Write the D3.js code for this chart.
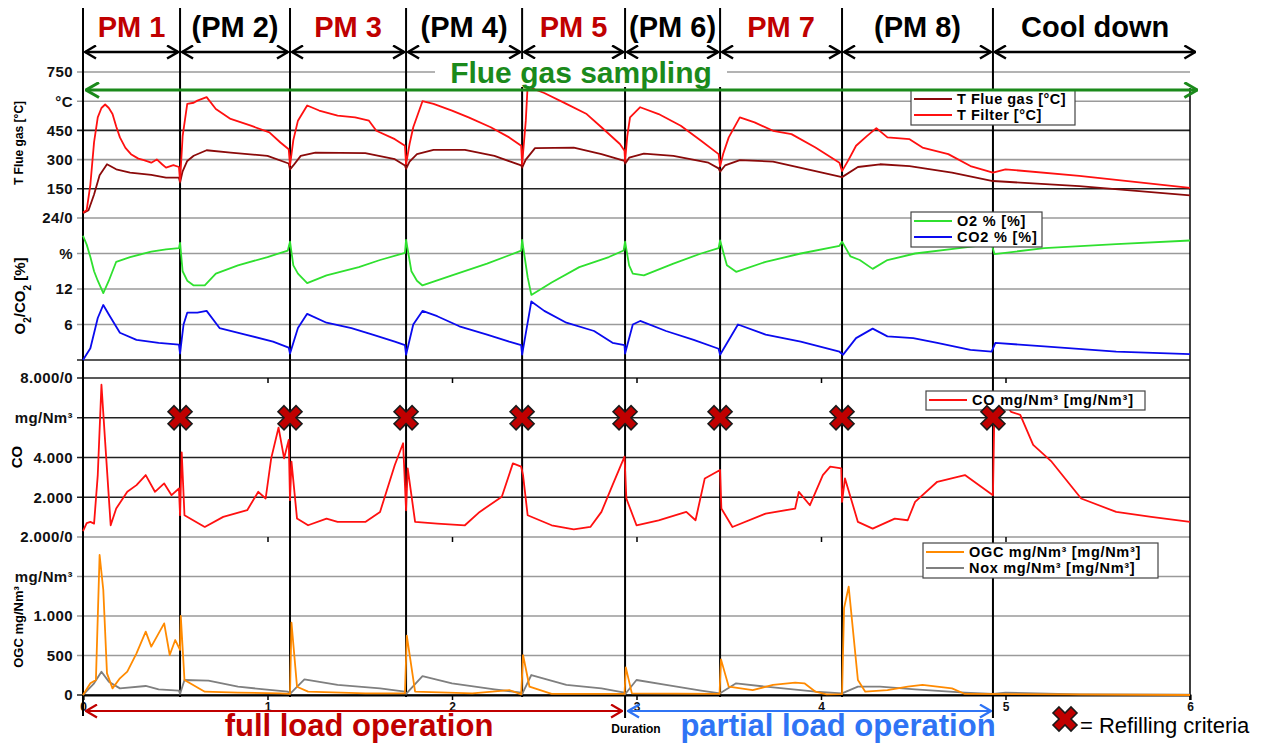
<!DOCTYPE html>
<html>
<head>
<meta charset="utf-8">
<script src="https://cdn.jsdelivr.net/npm/d3@7/dist/d3.min.js"></script>
<style>
  body { margin: 0; background: #fff; }
  svg { font-family: "Liberation Sans", Arial, sans-serif; }
  .tick text { font-weight: bold; }
</style>
</head>
<body>
<svg id="chart" width="1266" height="744"></svg>
<script>
// ---- data (x = duration, y = value) ----
const phaseNames = ['PM 1', '(PM 2)', 'PM 3', '(PM 4)', 'PM 5', '(PM 6)', 'PM 7', '(PM 8)', 'Cool down'];
const phaseBounds = [0, 0.526, 1.122, 1.751, 2.38, 2.938, 3.453, 4.114, 4.932, 6.04];
const refillAt = [0.526, 1.122, 1.751, 2.38, 2.938, 3.453, 4.114, 4.932];
const fullLoad = [0, 2.938];
const partialLoad = [2.938, 4.932];

const xTicks = [0, 1, 2, 3, 4, 5, 6];
const tempTicks = [0, 150, 300, 450, 600, 750];
const tempLabels = ['24/0', '150', '300', '450', '°C', '750'];
const gasTicks = [6, 12, 18];
const gasLabels = ['6', '12', '%'];
const coTicks = [0, 2000, 4000, 6000, 8000];
const coLabels = ['2.000/0', '2.000', '4.000', 'mg/Nm³', '8.000/0'];
const ogcTicks = [0, 500, 1000, 1500];
const ogcLabels = ['0', '500', '1.000', 'mg/Nm³'];

const tFilter = [[0,28],[0.02,40],[0.04,172],[0.06,390],[0.08,517],[0.1,565],[0.12,583],[0.14,565],[0.16,534],[0.18,470],[0.2,414],[0.23,360],[0.26,328],[0.3,305],[0.33,297],[0.37,284],[0.4,301],[0.43,275],[0.45,259],[0.49,272],[0.52,262],[0.526,190],[0.54,420],[0.565,586],[0.6,592],[0.62,603],[0.67,621],[0.72,560],[0.8,509],[0.91,474],[1.01,440],[1.07,388],[1.115,353],[1.122,270],[1.14,400],[1.165,500],[1.215,578],[1.28,552],[1.38,526],[1.475,517],[1.55,500],[1.59,448],[1.69,405],[1.745,371],[1.751,275],[1.77,380],[1.79,466],[1.84,600],[1.9,586],[2.0,552],[2.09,517],[2.21,466],[2.31,414],[2.375,371],[2.38,275],[2.4,500],[2.41,680],[2.45,660],[2.5,642],[2.62,586],[2.73,534],[2.81,466],[2.91,380],[2.935,345],[2.938,293],[2.95,420],[2.965,517],[3.02,569],[3.12,534],[3.24,474],[3.35,397],[3.445,328],[3.453,267],[3.47,330],[3.5,414],[3.56,517],[3.64,491],[3.74,448],[3.84,431],[3.97,362],[4.1,284],[4.114,241],[4.15,300],[4.19,371],[4.25,422],[4.3,462],[4.36,414],[4.48,405],[4.55,362],[4.69,328],[4.81,267],[4.932,233],[5.0,250],[5.4,216],[6.0,155]];
const tFlueGas = [[0,25],[0.03,40],[0.06,121],[0.09,220],[0.13,276],[0.18,250],[0.255,233],[0.37,221],[0.45,207],[0.52,207],[0.526,182],[0.54,240],[0.565,293],[0.6,320],[0.67,348],[0.8,336],[1.0,319],[1.115,280],[1.122,250],[1.14,270],[1.18,319],[1.26,336],[1.53,333],[1.69,302],[1.745,270],[1.751,253],[1.77,290],[1.81,328],[1.9,350],[2.07,350],[2.23,319],[2.375,270],[2.38,259],[2.4,300],[2.45,359],[2.66,362],[2.81,328],[2.935,293],[2.938,279],[2.96,310],[3.04,331],[3.2,319],[3.39,284],[3.445,255],[3.453,238],[3.48,270],[3.56,297],[3.74,290],[3.97,241],[4.114,210],[4.2,262],[4.32,276],[4.48,267],[4.71,233],[4.932,190],[5.4,164],[6.0,116]];
const o2 = [[0,21],[0.02,19.5],[0.04,17.4],[0.06,15],[0.08,13.4],[0.11,11.3],[0.14,13.4],[0.18,16.6],[0.255,17.4],[0.37,18.3],[0.45,18.7],[0.52,18.9],[0.526,19.8],[0.54,15],[0.565,13.4],[0.6,12.6],[0.66,12.6],[0.72,14.6],[0.84,16.0],[1.0,17.4],[1.11,18.5],[1.122,20],[1.14,16],[1.165,14.6],[1.215,13.0],[1.32,14.3],[1.495,15.7],[1.61,16.9],[1.745,18.1],[1.751,20.3],[1.78,15],[1.81,13.4],[1.84,12.6],[2.0,14.3],[2.19,16.3],[2.31,17.7],[2.375,18.5],[2.38,20.3],[2.41,14],[2.43,11.0],[2.54,13.1],[2.69,15.7],[2.85,17.4],[2.93,18.5],[2.938,20],[2.96,16],[2.98,14.6],[3.04,14.3],[3.2,16.3],[3.35,18.0],[3.445,18.9],[3.453,20.2],[3.49,16],[3.54,14.9],[3.7,16.6],[3.89,18.0],[4.1,19.3],[4.114,20],[4.16,17.5],[4.21,16.9],[4.28,15.4],[4.36,16.9],[4.51,18.0],[4.75,18.9],[4.925,19.6],[4.94,17.9],[5.21,18.9],[5.6,19.6],[6.0,20.2]];
const co2 = [[0,0],[0.04,2.0],[0.08,7.1],[0.11,9.3],[0.14,7.7],[0.2,4.6],[0.29,3.4],[0.41,2.9],[0.52,2.6],[0.526,1.1],[0.545,6],[0.565,8.0],[0.62,8.0],[0.67,8.3],[0.74,5.4],[0.88,4.3],[1.03,3.1],[1.115,2.1],[1.122,1.1],[1.165,5.4],[1.215,7.8],[1.32,6.3],[1.455,5.4],[1.57,4.3],[1.69,3.1],[1.745,2.5],[1.751,0.9],[1.79,6.0],[1.84,8.3],[1.92,7.4],[2.04,5.7],[2.19,4.3],[2.31,3.1],[2.375,2.5],[2.38,0.9],[2.43,9.9],[2.5,8.3],[2.62,6.3],[2.77,4.9],[2.87,2.9],[2.935,2.5],[2.938,1.1],[2.98,6.0],[3.02,6.6],[3.16,4.9],[3.31,3.4],[3.445,1.9],[3.453,0.9],[3.55,6.0],[3.7,4.3],[3.89,3.1],[4.1,1.4],[4.12,0.9],[4.19,3.7],[4.28,5.3],[4.36,4.0],[4.5,3.7],[4.63,2.9],[4.81,1.7],[4.925,1.4],[4.945,2.9],[5.21,2.3],[5.6,1.4],[6.0,1.0]];
const co = [[0,300],[0.02,700],[0.04,758],[0.06,674],[0.08,3116],[0.1,7663],[0.12,4800],[0.15,590],[0.18,1432],[0.24,2274],[0.29,2611],[0.34,3116],[0.39,2274],[0.44,2695],[0.48,2105],[0.52,2442],[0.526,1100],[0.535,4261],[0.55,1095],[0.66,505],[0.76,1011],[0.89,1347],[0.95,2274],[0.99,1937],[1.02,3958],[1.06,5507],[1.09,3958],[1.115,4884],[1.122,1853],[1.13,3789],[1.16,926],[1.22,590],[1.32,926],[1.38,758],[1.53,758],[1.61,1263],[1.69,3621],[1.735,4716],[1.751,1347],[1.76,3453],[1.8,758],[1.92,674],[2.07,590],[2.15,1263],[2.27,2021],[2.33,3705],[2.375,3537],[2.385,3116],[2.41,1095],[2.54,590],[2.66,387],[2.75,505],[2.81,1263],[2.87,2611],[2.935,4042],[2.945,1937],[3.0,590],[3.12,842],[3.27,1263],[3.32,842],[3.37,2947],[3.453,3368],[3.46,1432],[3.52,505],[3.7,1179],[3.86,1432],[3.88,2274],[3.94,1600],[4.01,3116],[4.05,3537],[4.11,3453],[4.114,1768],[4.13,2947],[4.2,758],[4.28,421],[4.4,926],[4.47,842],[4.51,1768],[4.63,2779],[4.78,3116],[4.932,2105],[4.94,6484],[5.0,6700],[5.03,6300],[5.08,6147],[5.15,4632],[5.25,3789],[5.41,1937],[5.6,1263],[5.79,1011],[6.0,758]];
const ogc = [[0,0],[0.04,148],[0.07,190],[0.09,1772],[0.11,1329],[0.13,274],[0.16,84],[0.2,211],[0.24,295],[0.29,527],[0.34,802],[0.37,612],[0.44,907],[0.47,506],[0.5,696],[0.526,570],[0.53,1000],[0.55,190],[0.66,42],[0.84,30],[1.07,21],[1.122,15],[1.13,916],[1.16,105],[1.22,42],[1.53,21],[1.745,21],[1.755,751],[1.8,42],[2.11,21],[2.31,63],[2.375,8],[2.385,506],[2.42,105],[2.54,13],[2.935,13],[2.942,350],[2.975,21],[3.45,13],[3.458,451],[3.5,105],[3.63,63],[3.74,127],[3.86,156],[3.91,148],[3.97,42],[4.03,8],[4.114,10],[4.125,1100],[4.15,1371],[4.2,190],[4.24,42],[4.36,63],[4.47,105],[4.55,127],[4.71,84],[4.78,13],[6.0,0]];
const nox = [[0,0],[0.06,148],[0.1,295],[0.14,169],[0.2,84],[0.34,114],[0.41,72],[0.52,55],[0.526,13],[0.55,190],[0.68,181],[0.84,105],[1.11,42],[1.122,13],[1.2,198],[1.38,127],[1.61,84],[1.745,42],[1.751,13],[1.84,240],[2.0,148],[2.23,72],[2.375,30],[2.38,10],[2.43,253],[2.62,127],[2.81,84],[2.935,30],[2.938,10],[3.0,190],[3.16,127],[3.35,55],[3.453,21],[3.54,148],[3.7,105],[3.97,42],[4.114,21],[4.2,105],[4.32,105],[4.51,72],[4.78,30],[4.932,13],[5.0,30],[5.4,8],[6.0,4]];

// ---- scales ----
const svg = d3.select('#chart');
const x = d3.scaleLinear().domain([0, 6]).range([83, 1190]);
const yT = d3.scaleLinear().domain([0, 750]).range([218, 72]);
const yG = d3.scaleLinear().domain([0, 24]).range([360, 218]);
const yCO = d3.scaleLinear().domain([0, 8000]).range([537, 378]);
const yOGC = d3.scaleLinear().domain([0, 2000]).range([695, 537]);

const GRAY = '#9a9a9a', DARK = '#222';
const RED = '#c00000', GREEN = '#1b8a1b', BLUE = '#2f74f5';

// arrow markers
const defs = svg.append('defs');
function chevron(id, color, w, h, sw) {
  defs.append('marker')
      .attr('id', id)
      .attr('viewBox', `0 0 ${w} ${h}`)
      .attr('refX', w - 1).attr('refY', h / 2)
      .attr('markerWidth', w).attr('markerHeight', h)
      .attr('markerUnits', 'userSpaceOnUse')
      .attr('orient', 'auto-start-reverse')
    .append('path')
      .attr('d', `M1,1 L${w - 1},${h / 2} L1,${h - 1}`)
      .attr('fill', 'none')
      .attr('stroke', color)
      .attr('stroke-width', sw);
}
chevron('arrBlack', '#000', 13, 15, 2.5);
chevron('arrGreen', GREEN, 15, 17, 3);
chevron('arrRed', RED, 13, 15, 2.2);
chevron('arrBlue', BLUE, 13, 15, 2.2);

// ---- grid lines ----
function grid(scale, values, colorOf) {
  svg.append('g').selectAll('line')
      .data(values)
    .join('line')
      .attr('x1', x(0) - 6).attr('x2', x(6))
      .attr('y1', d => scale(d)).attr('y2', d => scale(d))
      .attr('stroke', colorOf)
      .attr('stroke-width', 1.6);
}
grid(yT, tempTicks, d => (d === 150 || d === 450) ? DARK : GRAY);
grid(yG, [0, 6, 12, 18], d => d === 0 ? DARK : GRAY);
grid(yCO, coTicks, d => d === 0 ? GRAY : DARK);
grid(yOGC, ogcTicks, d => d === 0 ? DARK : GRAY);

// ---- left axes (labels only, grid carries the lines) ----
function leftAxis(scale, values, labels) {
  const g = svg.append('g')
      .attr('transform', `translate(${x(0)},0)`)
      .call(d3.axisLeft(scale).tickValues(values)
        .tickFormat((d, i) => labels[i]).tickSize(6).tickPadding(4));
  g.select('.domain').remove();
  g.selectAll('.tick line').remove();
  g.selectAll('.tick text')
      .attr('fill', '#111')
      .style('font-size', '15px')
      .style('letter-spacing', '0.4px');
}
leftAxis(yT, tempTicks, tempLabels);
leftAxis(yG, gasTicks, gasLabels);
leftAxis(yCO, coTicks, coLabels);
leftAxis(yOGC, ogcTicks, ogcLabels);

// rotated axis titles
function yTitle(cx, cy, size) {
  return svg.append('text')
      .attr('transform', `translate(${cx},${cy}) rotate(-90)`)
      .attr('text-anchor', 'middle')
      .style('font-size', size + 'px')
      .style('font-weight', 'bold');
}
yTitle(23, 143, 12).text('T Flue gas [°C]');
const gasTitle = yTitle(25, 296, 15);
gasTitle.append('tspan').text('O');
gasTitle.append('tspan').attr('baseline-shift', 'sub').style('font-size', '10px').text('2');
gasTitle.append('tspan').text('/CO');
gasTitle.append('tspan').attr('baseline-shift', 'sub').style('font-size', '10px').text('2');
gasTitle.append('tspan').text(' [%]');
yTitle(22, 457, 15).text('CO');
yTitle(23, 627, 13).text('OGC mg/Nm³');

// ---- bottom axis ----
const xAxis = svg.append('g')
    .attr('transform', `translate(0,${yOGC(0)})`)
    .call(d3.axisBottom(x).tickValues(xTicks).tickSize(5).tickPadding(2).tickFormat(d3.format('d')));
xAxis.select('.domain').attr('stroke', '#000').attr('stroke-width', 2);
xAxis.selectAll('.tick line').attr('stroke', '#000').attr('stroke-width', 1.5);
xAxis.selectAll('.tick text').style('font-size', '12px').attr('fill', '#111');

// small inner ticks on CO and OGC panels
[yCO(8000), yCO(0)].forEach(yy => {
  const g = svg.append('g')
      .attr('transform', `translate(0,${yy})`)
      .call(d3.axisBottom(x).tickValues(xTicks.slice(1, 6)).tickSize(5).tickFormat(''));
  g.select('.domain').remove();
  g.selectAll('.tick line').attr('stroke', '#000').attr('stroke-width', 1.5);
});

// ---- vertical phase lines ----
svg.append('line')
    .attr('x1', x(0)).attr('x2', x(0))
    .attr('y1', 8).attr('y2', 716)
    .attr('stroke', '#000').attr('stroke-width', 2);
svg.append('line')
    .attr('x1', x(6)).attr('x2', x(6))
    .attr('y1', 88).attr('y2', 700)
    .attr('stroke', '#000').attr('stroke-width', 1.5);
svg.append('g').selectAll('line')
    .data(refillAt)
  .join('line')
    .attr('x1', d => x(d)).attr('x2', d => x(d))
    .attr('y1', 8)
    .attr('y2', d => (d === partialLoad[0] || d === partialLoad[1]) ? 718 : 697)
    .attr('stroke', '#000').attr('stroke-width', 2);

// ---- series ----
function series(data, scale, color, w) {
  svg.append('path')
      .datum(data)
      .attr('fill', 'none')
      .attr('stroke', color)
      .attr('stroke-width', w || 1.8)
      .attr('stroke-linejoin', 'round')
      .attr('d', d3.line().x(d => x(d[0])).y(d => scale(d[1])));
}
series(tFlueGas, yT, '#8b0a0a');
series(tFilter, yT, '#ff1010');
series(o2, yG, '#2fe02f');
series(co2, yG, '#0a0aee');
series(co, yCO, '#ff1010');
series(nox, yOGC, '#7f7f7f');
series(ogc, yOGC, '#ff8a00');

// ---- legends ----
function legend(x0, y0, w, rows, fs, ls) {
  const h = rows.length * 16 + 3;
  const g = svg.append('g').attr('transform', `translate(${x0},${y0})`);
  g.append('rect')
      .attr('width', w).attr('height', h)
      .attr('fill', '#fff').attr('stroke', '#444').attr('stroke-width', 1.2);
  rows.forEach((r, i) => {
    const yy = 9 + i * 16;
    g.append('line')
        .attr('x1', 3).attr('x2', 41).attr('y1', yy).attr('y2', yy)
        .attr('stroke', r[1]).attr('stroke-width', 2);
    g.append('text')
        .attr('x', 46).attr('y', yy + 5)
        .style('font-size', fs + 'px').style('font-weight', 'bold')
        .style('letter-spacing', ls + 'px')
        .text(r[0]);
  });
}
legend(911, 90, 164, [['T Flue gas [°C]', '#8b0a0a'], ['T Filter [°C]', '#ff1010']], 14.5, 0.5);
legend(911, 212, 131, [['O2 % [%]', '#2fe02f'], ['CO2 % [%]', '#0a0aee']], 14.5, 0.8);
legend(926, 391, 219, [['CO mg/Nm³ [mg/Nm³]', '#ff1010']], 14.5, 0.8);
legend(923, 543, 235, [['OGC mg/Nm³ [mg/Nm³]', '#ff8a00'], ['Nox mg/Nm³ [mg/Nm³]', '#7f7f7f']], 14.5, 0.7);

// ---- refilling markers ----
const xMark = d3.symbol(d3.symbolCross, 360);
svg.append('g').selectAll('path')
    .data(refillAt)
  .join('path')
    .attr('transform', d => `translate(${x(d)},${yCO(6000)}) rotate(45)`)
    .attr('d', xMark)
    .attr('fill', '#c00000')
    .attr('stroke', '#1a1a1a')
    .attr('stroke-width', 1.6);

// ---- header phases ----
const phases = phaseNames.map((name, i) => ({name, a: phaseBounds[i], b: phaseBounds[i + 1]}));
svg.append('g').selectAll('line')
    .data(phases)
  .join('line')
    .attr('x1', d => x(d.a) + 2).attr('x2', d => x(d.b) - 2)
    .attr('y1', 52).attr('y2', 52)
    .attr('stroke', '#000').attr('stroke-width', 2.5)
    .attr('marker-start', 'url(#arrBlack)')
    .attr('marker-end', 'url(#arrBlack)');
svg.append('g').selectAll('text')
    .data(phases)
  .join('text')
    .attr('x', d => (x(d.a) + x(d.b)) / 2)
    .attr('y', 37)
    .attr('text-anchor', 'middle')
    .attr('fill', d => d.name.startsWith('PM') ? RED : '#000')
    .style('font-size', '29px').style('font-weight', 'bold')
    .text(d => d.name);

// flue gas sampling arrow
svg.append('line')
    .attr('x1', x(0) + 3).attr('x2', x(phaseBounds[9]))
    .attr('y1', 90).attr('y2', 90)
    .attr('stroke', GREEN).attr('stroke-width', 3)
    .attr('marker-start', 'url(#arrGreen)')
    .attr('marker-end', 'url(#arrGreen)');
svg.append('rect')
    .attr('x', 435).attr('y', 59).attr('width', 292).attr('height', 28)
    .attr('fill', '#fff');
svg.append('text')
    .attr('x', 581).attr('y', 83)
    .attr('text-anchor', 'middle')
    .attr('fill', GREEN)
    .style('font-size', '30px').style('font-weight', 'bold')
    .text('Flue gas sampling');

// ---- load operation arrows ----
svg.append('line')
    .attr('x1', x(fullLoad[0]) + 3).attr('x2', x(fullLoad[1]) - 3)
    .attr('y1', 711).attr('y2', 711)
    .attr('stroke', RED).attr('stroke-width', 2.2)
    .attr('marker-start', 'url(#arrRed)')
    .attr('marker-end', 'url(#arrRed)');
svg.append('line')
    .attr('x1', x(partialLoad[0]) + 3).attr('x2', x(partialLoad[1]) - 2)
    .attr('y1', 711).attr('y2', 711)
    .attr('stroke', BLUE).attr('stroke-width', 2.2)
    .attr('marker-start', 'url(#arrBlue)')
    .attr('marker-end', 'url(#arrBlue)');
svg.append('text')
    .attr('x', 359).attr('y', 736)
    .attr('text-anchor', 'middle')
    .attr('fill', RED)
    .style('font-size', '31px').style('font-weight', 'bold')
    .text('full load operation');
svg.append('text')
    .attr('x', 838).attr('y', 736)
    .attr('text-anchor', 'middle')
    .attr('fill', BLUE)
    .style('font-size', '31px').style('font-weight', 'bold')
    .text('partial load operation');
svg.append('text')
    .attr('x', 636).attr('y', 733)
    .attr('text-anchor', 'middle')
    .style('font-size', '12px').style('font-weight', 'bold')
    .text('Duration');

// refilling criteria key
svg.append('path')
    .attr('transform', 'translate(1065,719) rotate(45)')
    .attr('d', xMark)
    .attr('fill', '#c00000')
    .attr('stroke', '#1a1a1a')
    .attr('stroke-width', 1.6);
svg.append('text')
    .attr('x', 1080).attr('y', 733)
    .style('font-size', '22px')
    .text('= Refilling criteria');
</script>
</body>
</html>
